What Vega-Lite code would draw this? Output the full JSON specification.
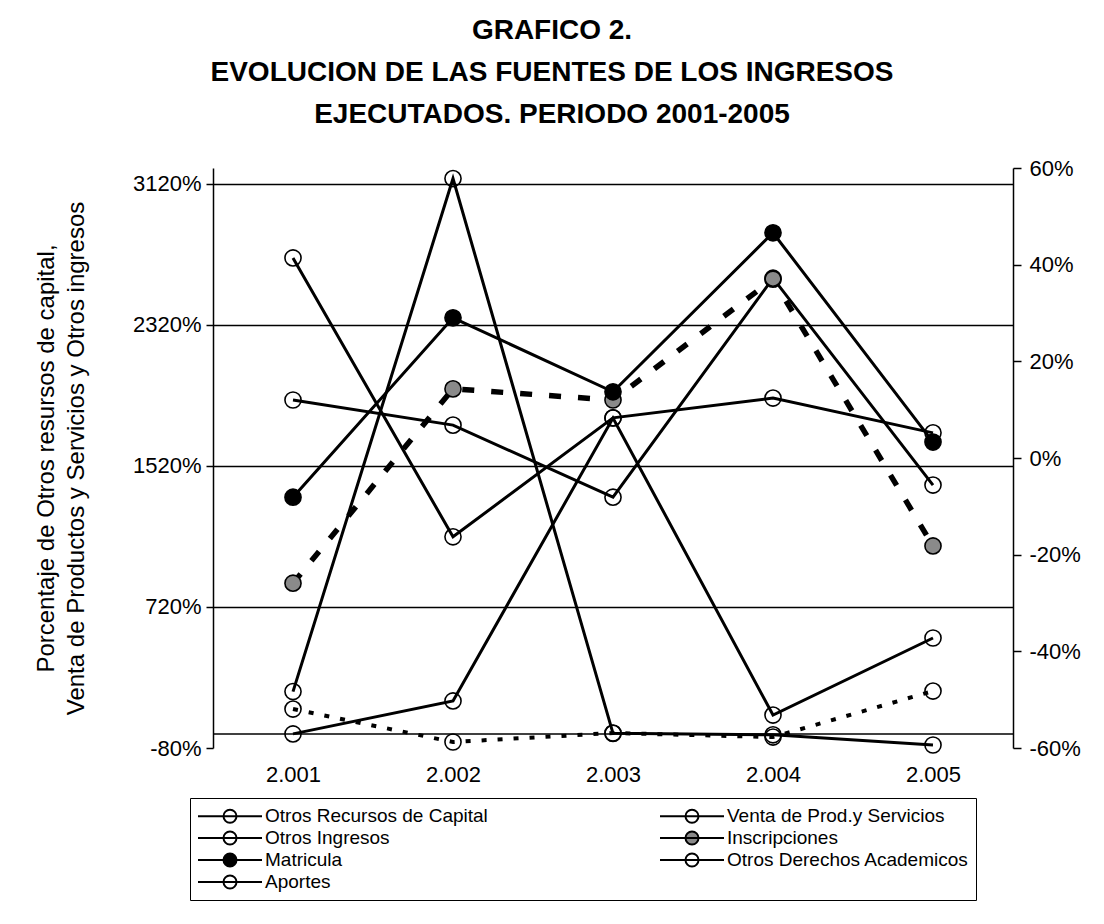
{
  "$schema": "https://vega.github.io/schema/vega-lite/v6.json",
  "width": 800,
  "height": 580,
  "autosize": {"type": "none"},
  "padding": {"left": 213, "top": 168, "right": 91, "bottom": 176},
  "background": "white",
  "config": {
    "view": {"stroke": null},
    "font": "Liberation Sans"
  },
  "title": {
    "text": ["GRAFICO 2.", "EVOLUCION DE LAS FUENTES DE LOS INGRESOS", "EJECUTADOS. PERIODO 2001-2005"],
    "font": "Liberation Sans",
    "fontSize": 28,
    "fontWeight": "bold",
    "color": "black",
    "lineHeight": 42,
    "anchor": "middle",
    "dx": -61,
    "offset": 28
  },
  "data": {
    "values": [
      {"anio": "2.001", "serie": "Otros Recursos de Capital", "eje": "izq", "valor": 240},
      {"anio": "2.002", "serie": "Otros Recursos de Capital", "eje": "izq", "valor": 3150},
      {"anio": "2.003", "serie": "Otros Recursos de Capital", "eje": "izq", "valor": 3},
      {"anio": "2.004", "serie": "Otros Recursos de Capital", "eje": "izq", "valor": -5},
      {"anio": "2.005", "serie": "Otros Recursos de Capital", "eje": "izq", "valor": -63},
      {"anio": "2.001", "serie": "Venta de Prod.y Servicios", "eje": "izq", "valor": 0},
      {"anio": "2.002", "serie": "Venta de Prod.y Servicios", "eje": "izq", "valor": 187},
      {"anio": "2.003", "serie": "Venta de Prod.y Servicios", "eje": "izq", "valor": 1792},
      {"anio": "2.004", "serie": "Venta de Prod.y Servicios", "eje": "izq", "valor": 107},
      {"anio": "2.005", "serie": "Venta de Prod.y Servicios", "eje": "izq", "valor": 544},
      {"anio": "2.001", "serie": "Otros Ingresos", "eje": "izq", "valor": 141},
      {"anio": "2.002", "serie": "Otros Ingresos", "eje": "izq", "valor": -46},
      {"anio": "2.003", "serie": "Otros Ingresos", "eje": "izq", "valor": 5},
      {"anio": "2.004", "serie": "Otros Ingresos", "eje": "izq", "valor": -18},
      {"anio": "2.005", "serie": "Otros Ingresos", "eje": "izq", "valor": 243},
      {"anio": "2.001", "serie": "Inscripciones", "eje": "der", "valor": -25.9},
      {"anio": "2.002", "serie": "Inscripciones", "eje": "der", "valor": 14.3},
      {"anio": "2.003", "serie": "Inscripciones", "eje": "der", "valor": 12.0},
      {"anio": "2.004", "serie": "Inscripciones", "eje": "der", "valor": 37.0},
      {"anio": "2.005", "serie": "Inscripciones", "eje": "der", "valor": -18.2},
      {"anio": "2.001", "serie": "Matricula", "eje": "der", "valor": -8.1},
      {"anio": "2.002", "serie": "Matricula", "eje": "der", "valor": 29.0},
      {"anio": "2.003", "serie": "Matricula", "eje": "der", "valor": 13.7},
      {"anio": "2.004", "serie": "Matricula", "eje": "der", "valor": 46.6},
      {"anio": "2.005", "serie": "Matricula", "eje": "der", "valor": 3.3},
      {"anio": "2.001", "serie": "Otros Derechos Academicos", "eje": "der", "valor": 12.0},
      {"anio": "2.002", "serie": "Otros Derechos Academicos", "eje": "der", "valor": 6.8},
      {"anio": "2.003", "serie": "Otros Derechos Academicos", "eje": "der", "valor": -8.1},
      {"anio": "2.004", "serie": "Otros Derechos Academicos", "eje": "der", "valor": 37.2},
      {"anio": "2.005", "serie": "Otros Derechos Academicos", "eje": "der", "valor": -5.6},
      {"anio": "2.001", "serie": "Aportes", "eje": "der", "valor": 41.4},
      {"anio": "2.002", "serie": "Aportes", "eje": "der", "valor": -16.3},
      {"anio": "2.003", "serie": "Aportes", "eje": "der", "valor": 8.3},
      {"anio": "2.004", "serie": "Aportes", "eje": "der", "valor": 12.4},
      {"anio": "2.005", "serie": "Aportes", "eje": "der", "valor": 5.2}
    ]
  },
  "layer": [
    {
      "layer": [
        {
          "data": {"values": [{"cero": 0}]},
          "mark": {"type": "rule", "color": "black", "strokeWidth": 1.5},
          "encoding": {
            "y": {"field": "cero", "type": "quantitative",
              "scale": {"domain": [-80, 3210], "nice": false, "zero": false},
              "axis": {"orient": "left", "values": [-80, 720, 1520, 2320, 3120], "labelExpr": "datum.value + '%'", "labelFont": "Liberation Sans", "labelFontSize": 22, "labelColor": "black", "labelPadding": 5, "domainColor": "black", "domainWidth": 1.5, "tickColor": "black", "tickWidth": 1.5, "tickSize": 7, "grid": true, "gridColor": "black", "gridWidth": 1.5, "gridOpacity": {"condition": {"test": "datum.value == -80", "value": 0}, "value": 1}, "title": ["Porcentaje de Otros resursos de capital,", "Venta de Productos y Servicios y Otros ingresos"], "titleFont": "Liberation Sans", "titleFontSize": 24, "titleFontWeight": "normal", "titleColor": "black", "titleLineHeight": 30, "titlePadding": 44}}
          }
        },
        {
          "transform": [{"filter": {"field": "serie", "oneOf": ["Otros Recursos de Capital", "Venta de Prod.y Servicios"]}}],
          "mark": {"type": "line", "color": "black", "strokeWidth": 3},
          "encoding": {
            "x": {"field": "anio", "type": "ordinal", "scale": {"type": "point", "padding": 0.5},
              "axis": {"title": null, "domain": false, "ticks": false, "labelAngle": 0, "labelFont": "Liberation Sans", "labelFontSize": 22, "labelColor": "black", "labelPadding": 16}},
            "y": {"field": "valor", "type": "quantitative",
              "scale": {"domain": [-80, 3210], "nice": false, "zero": false},
              "axis": {"orient": "left", "values": [-80, 720, 1520, 2320, 3120], "labelExpr": "datum.value + '%'", "labelFont": "Liberation Sans", "labelFontSize": 22, "labelColor": "black", "labelPadding": 5, "domainColor": "black", "domainWidth": 1.5, "tickColor": "black", "tickWidth": 1.5, "tickSize": 7, "grid": true, "gridColor": "black", "gridWidth": 1.5, "gridOpacity": {"condition": {"test": "datum.value == -80", "value": 0}, "value": 1}, "title": ["Porcentaje de Otros resursos de capital,", "Venta de Productos y Servicios y Otros ingresos"], "titleFont": "Liberation Sans", "titleFontSize": 24, "titleFontWeight": "normal", "titleColor": "black", "titleLineHeight": 30, "titlePadding": 44}},
            "detail": {"field": "serie"}
          }
        },
        {
          "transform": [{"filter": {"field": "serie", "equal": "Otros Ingresos"}}],
          "mark": {"type": "line", "color": "black", "strokeWidth": 4, "strokeDash": [5, 11], "strokeCap": "butt"},
          "encoding": {
            "x": {"field": "anio", "type": "ordinal", "scale": {"type": "point", "padding": 0.5},
              "axis": {"title": null, "domain": false, "ticks": false, "labelAngle": 0, "labelFont": "Liberation Sans", "labelFontSize": 22, "labelColor": "black", "labelPadding": 16}},
            "y": {"field": "valor", "type": "quantitative",
              "scale": {"domain": [-80, 3210], "nice": false, "zero": false},
              "axis": {"orient": "left", "values": [-80, 720, 1520, 2320, 3120], "labelExpr": "datum.value + '%'", "labelFont": "Liberation Sans", "labelFontSize": 22, "labelColor": "black", "labelPadding": 5, "domainColor": "black", "domainWidth": 1.5, "tickColor": "black", "tickWidth": 1.5, "tickSize": 7, "grid": true, "gridColor": "black", "gridWidth": 1.5, "gridOpacity": {"condition": {"test": "datum.value == -80", "value": 0}, "value": 1}, "title": ["Porcentaje de Otros resursos de capital,", "Venta de Productos y Servicios y Otros ingresos"], "titleFont": "Liberation Sans", "titleFontSize": 24, "titleFontWeight": "normal", "titleColor": "black", "titleLineHeight": 30, "titlePadding": 44}}
          }
        },
        {
          "transform": [{"filter": {"field": "eje", "equal": "izq"}}],
          "mark": {"type": "point", "shape": "circle", "filled": true, "stroke": "black", "strokeWidth": 1.6, "size": 260, "opacity": 1},
          "encoding": {
            "x": {"field": "anio", "type": "ordinal", "scale": {"type": "point", "padding": 0.5},
              "axis": {"title": null, "domain": false, "ticks": false, "labelAngle": 0, "labelFont": "Liberation Sans", "labelFontSize": 22, "labelColor": "black", "labelPadding": 16}},
            "y": {"field": "valor", "type": "quantitative",
              "scale": {"domain": [-80, 3210], "nice": false, "zero": false},
              "axis": {"orient": "left", "values": [-80, 720, 1520, 2320, 3120], "labelExpr": "datum.value + '%'", "labelFont": "Liberation Sans", "labelFontSize": 22, "labelColor": "black", "labelPadding": 5, "domainColor": "black", "domainWidth": 1.5, "tickColor": "black", "tickWidth": 1.5, "tickSize": 7, "grid": true, "gridColor": "black", "gridWidth": 1.5, "gridOpacity": {"condition": {"test": "datum.value == -80", "value": 0}, "value": 1}, "title": ["Porcentaje de Otros resursos de capital,", "Venta de Productos y Servicios y Otros ingresos"], "titleFont": "Liberation Sans", "titleFontSize": 24, "titleFontWeight": "normal", "titleColor": "black", "titleLineHeight": 30, "titlePadding": 44}},
            "fill": {"field": "serie", "type": "nominal",
              "scale": {"domain": ["Otros Recursos de Capital", "Venta de Prod.y Servicios", "Otros Ingresos", "Inscripciones", "Matricula", "Otros Derechos Academicos", "Aportes"], "range": ["transparent", "transparent", "transparent", "#8a8a8a", "black", "transparent", "transparent"]},
              "legend": {"orient": "none", "legendX": -23, "legendY": 630, "direction": "horizontal", "title": null, "columns": 2, "columnPadding": 168, "rowPadding": -1.5, "padding": 7, "strokeColor": "black",
                "symbolType": "M-1,0L5.4,0M2.85,0A0.65,0.65,0,1,1,1.55,0A0.65,0.65,0,1,1,2.85,0Z",
                "symbolSize": 400, "symbolStrokeWidth": 2, "symbolStrokeColor": "black", "labelFont": "Liberation Sans", "labelFontSize": 19, "labelColor": "black", "labelOffset": 46, "labelLimit": 500}}
          }
        }
      ]
    },
    {
      "layer": [
        {
          "transform": [{"filter": {"field": "serie", "oneOf": ["Matricula", "Otros Derechos Academicos", "Aportes"]}}],
          "mark": {"type": "line", "color": "black", "strokeWidth": 3},
          "encoding": {
            "x": {"field": "anio", "type": "ordinal", "scale": {"type": "point", "padding": 0.5},
              "axis": {"title": null, "domain": false, "ticks": false, "labelAngle": 0, "labelFont": "Liberation Sans", "labelFontSize": 22, "labelColor": "black", "labelPadding": 16}},
            "y": {"field": "valor", "type": "quantitative",
              "scale": {"domain": [-60, 60], "nice": false, "zero": false},
              "axis": {"orient": "right", "values": [-60, -40, -20, 0, 20, 40, 60], "labelExpr": "datum.value + '%'", "labelFont": "Liberation Sans", "labelFontSize": 22, "labelColor": "black", "labelPadding": 8, "domainColor": "black", "domainWidth": 1.5, "tickColor": "black", "tickWidth": 1.5, "tickSize": 8, "grid": false, "title": null}},
            "detail": {"field": "serie"}
          }
        },
        {
          "transform": [{"filter": {"field": "serie", "equal": "Inscripciones"}}],
          "mark": {"type": "line", "color": "black", "strokeWidth": 5.5, "strokeDash": [12, 17], "strokeCap": "butt"},
          "encoding": {
            "x": {"field": "anio", "type": "ordinal", "scale": {"type": "point", "padding": 0.5},
              "axis": {"title": null, "domain": false, "ticks": false, "labelAngle": 0, "labelFont": "Liberation Sans", "labelFontSize": 22, "labelColor": "black", "labelPadding": 16}},
            "y": {"field": "valor", "type": "quantitative",
              "scale": {"domain": [-60, 60], "nice": false, "zero": false},
              "axis": {"orient": "right", "values": [-60, -40, -20, 0, 20, 40, 60], "labelExpr": "datum.value + '%'", "labelFont": "Liberation Sans", "labelFontSize": 22, "labelColor": "black", "labelPadding": 8, "domainColor": "black", "domainWidth": 1.5, "tickColor": "black", "tickWidth": 1.5, "tickSize": 8, "grid": false, "title": null}}
          }
        },
        {
          "transform": [{"filter": {"field": "eje", "equal": "der"}}],
          "mark": {"type": "point", "shape": "circle", "filled": true, "stroke": "black", "strokeWidth": 1.6, "size": 260, "opacity": 1},
          "encoding": {
            "x": {"field": "anio", "type": "ordinal", "scale": {"type": "point", "padding": 0.5},
              "axis": {"title": null, "domain": false, "ticks": false, "labelAngle": 0, "labelFont": "Liberation Sans", "labelFontSize": 22, "labelColor": "black", "labelPadding": 16}},
            "y": {"field": "valor", "type": "quantitative",
              "scale": {"domain": [-60, 60], "nice": false, "zero": false},
              "axis": {"orient": "right", "values": [-60, -40, -20, 0, 20, 40, 60], "labelExpr": "datum.value + '%'", "labelFont": "Liberation Sans", "labelFontSize": 22, "labelColor": "black", "labelPadding": 8, "domainColor": "black", "domainWidth": 1.5, "tickColor": "black", "tickWidth": 1.5, "tickSize": 8, "grid": false, "title": null}},
            "fill": {"field": "serie", "type": "nominal",
              "scale": {"domain": ["Otros Recursos de Capital", "Venta de Prod.y Servicios", "Otros Ingresos", "Inscripciones", "Matricula", "Otros Derechos Academicos", "Aportes"], "range": ["transparent", "transparent", "transparent", "#8a8a8a", "black", "transparent", "transparent"]}}
          }
        }
      ]
    }
  ],
  "resolve": {"scale": {"y": "independent"}}
}
